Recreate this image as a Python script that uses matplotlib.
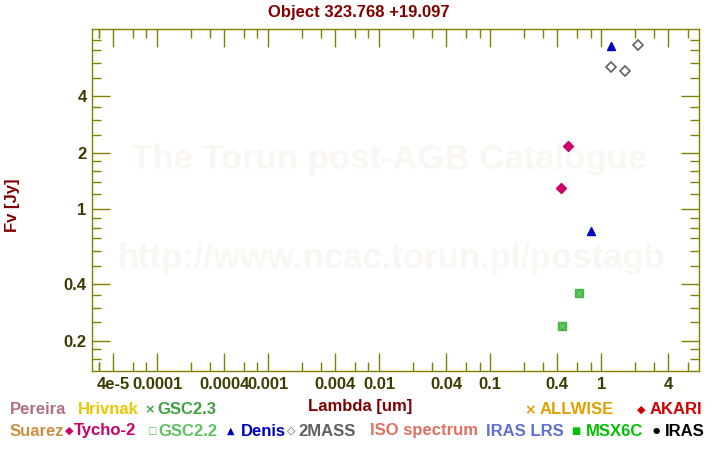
import matplotlib
matplotlib.use("Agg")
import matplotlib.pyplot as plt
from matplotlib.ticker import FixedLocator, FixedFormatter, NullFormatter

plt.rcParams['font.family'] = ['Liberation Sans', 'DejaVu Sans']

# ---- data ----
tycho_wl = [0.433, 0.50]
tycho_fl = [1.30, 2.17]
denis_wl = [0.807, 1.22]
denis_fl = [0.767, 7.39]
mass_wl = [1.22, 1.63, 2.14]
mass_fl = [5.74, 5.44, 7.48]
gsc22_wl = [0.439, 0.634]
gsc22_fl = [0.239, 0.357]
gsc23_wl = [0.439, 0.634]
gsc23_fl = [0.239, 0.357]

xtick_vals = [4e-5, 1e-4, 4e-4, 1e-3, 4e-3, 1e-2, 4e-2, 0.1, 0.4, 1, 4]
xtick_labels = ['4e-5', '0.0001', '0.0004', '0.001', '0.004', '0.01', '0.04', '0.1', '0.4', '1', '4']
ytick_vals = [0.2, 0.4, 1, 2, 4]
ytick_labels = ['0.2', '0.4', '1', '2', '4']

W, H = 720, 450
fig = plt.figure(figsize=(7.2, 4.5), dpi=100)
fig.patch.set_facecolor('white')

def fx(x):
    return x / W

def fy(y):
    return 1 - y / H

ax = fig.add_axes([fx(92.3), fy(371), fx(699.3) - fx(92.3), fy(29.3) - fy(371)])
ax.set_xscale('log')
ax.set_yscale('log')
ax.set_xlim(2.6e-5, 7.64)
ax.set_ylim(0.138, 9.07)

olive = '#808000'
ticklab = '#3c3c00'
for s in ax.spines.values():
    s.set_color(olive)
    s.set_linewidth(1.0)

ax.xaxis.set_major_locator(FixedLocator(xtick_vals))
ax.xaxis.set_major_formatter(FixedFormatter(xtick_labels))
xminor = [3e-5]
for d in [1e-5, 1e-4, 1e-3, 1e-2, 1e-1, 1]:
    for m in [2, 3, 6, 8]:
        v = m * d
        if 2.6e-5 < v < 7.64:
            xminor.append(v)
ax.xaxis.set_minor_locator(FixedLocator(xminor))
ax.xaxis.set_minor_formatter(NullFormatter())

ax.yaxis.set_major_locator(FixedLocator(ytick_vals))
ax.yaxis.set_major_formatter(FixedFormatter(ytick_labels))
yminor = [0.16, 0.18, 0.25, 0.3, 0.35, 0.5, 0.6, 0.7, 0.8, 0.9,
          1.2, 1.4, 1.6, 1.8, 2.5, 3, 3.5, 5, 6, 7, 8]
ax.yaxis.set_minor_locator(FixedLocator(yminor))
ax.yaxis.set_minor_formatter(NullFormatter())

ax.tick_params(which='both', direction='in', top=True, right=True, color=olive,
               width=1.0, labelcolor=ticklab, labelsize=12)
ax.tick_params(which='major', length=13, pad=4)
ax.tick_params(which='minor', length=6.5)
for lab in ax.get_xticklabels() + ax.get_yticklabels():
    lab.set_fontweight('bold')

# watermark
ax.text(0.489, 0.62, 'The Torun post-AGB Catalogue', transform=ax.transAxes,
        ha='center', va='center', fontsize=25, fontweight='bold', color='#faf7f3', zorder=0)
ax.text(0.493, 0.33, 'http://www.ncac.torun.pl/postagb', transform=ax.transAxes,
        ha='center', va='center', fontsize=25, fontweight='bold', color='#faf7f3', zorder=0)

# data
ax.plot(gsc22_wl, gsc22_fl, linestyle='none', marker='s', markersize=5.5,
        markerfacecolor='#48b448', markeredgecolor='#48b448', zorder=3)
ax.plot(gsc23_wl, gsc23_fl, linestyle='none', marker='x', markersize=5,
        markeredgecolor='#66c866', markeredgewidth=1, zorder=4)
ax.plot(tycho_wl, tycho_fl, linestyle='none', marker='D', markersize=5.5,
        markerfacecolor='#cc0066', markeredgecolor='#cc0066', zorder=3)
ax.plot(denis_wl, denis_fl, linestyle='none', marker='^', markersize=6,
        markerfacecolor='#0000c0', markeredgecolor='#0000c0', zorder=3)
ax.plot(mass_wl, mass_fl, linestyle='none', marker='D', markersize=5.5,
        markerfacecolor='none', markeredgecolor='#606060', markeredgewidth=1.2, zorder=3)

# titles
fig.text(fx(359), fy(12), 'Object 323.768 +19.097', ha='center', va='center',
         fontsize=12, fontweight='bold', color='#800000')
fig.text(fx(360), fy(406), 'Lambda [um]', ha='center', va='center',
         fontsize=12, fontweight='bold', color='#800000')
fig.text(fx(12), fy(205), 'Fv [Jy]', ha='center', va='center', rotation=90,
         fontsize=12, fontweight='bold', color='#800000')

# legend (manual)
def leg_text(x, y, s, c):
    fig.text(fx(x), fy(y), s, ha='left', va='center', fontsize=12,
             fontweight='bold', color=c)

def leg_sym(x, y, s, c, size=8):
    fig.text(fx(x), fy(y), s, ha='center', va='center', fontsize=size,
             fontweight='bold', color=c, family=['DejaVu Sans'])

r1, r2 = 410, 431
leg_text(10, r1, 'Pereira', '#b07080')
leg_text(78, r1, 'Hrivnak', '#e8c800')
leg_sym(150, r1, '×', '#40a040', 9)
leg_text(157, r1, 'GSC2.3', '#40a040')
leg_sym(530, r1, '×', '#e0a000', 10)
leg_text(540, r1, 'ALLWISE', '#e0a000')
leg_sym(641, r1, '◆', '#d00000', 8)
leg_text(650, r1, 'AKARI', '#d00000')

leg_text(10, r2, 'Suarez', '#c89040')
leg_sym(69.5, r2, '◆', '#cc0066', 8)
leg_text(74, r2, 'Tycho-2', '#cc0066')
leg_sym(151.5, r2, '□', '#60c060', 7)
leg_text(158, r2, 'GSC2.2', '#60c060')
leg_sym(231, r2, '▲', '#0000c0', 7)
leg_text(241, r2, 'Denis', '#0000c0')
leg_sym(291, r2, '◇', '#606060', 8)
leg_text(298, r2, '2MASS', '#606060')
leg_text(370, r2, 'ISO spectrum', '#e07060')
leg_text(486, r2, 'IRAS LRS', '#6070d0')
leg_sym(576, r2, '■', '#00c000', 7)
leg_text(586, r2, 'MSX6C', '#00c000')
leg_sym(656, r2, '●', '#000000', 6)
leg_text(665, r2, 'IRAS', '#000000')

fig.savefig('out.png', dpi=100)
